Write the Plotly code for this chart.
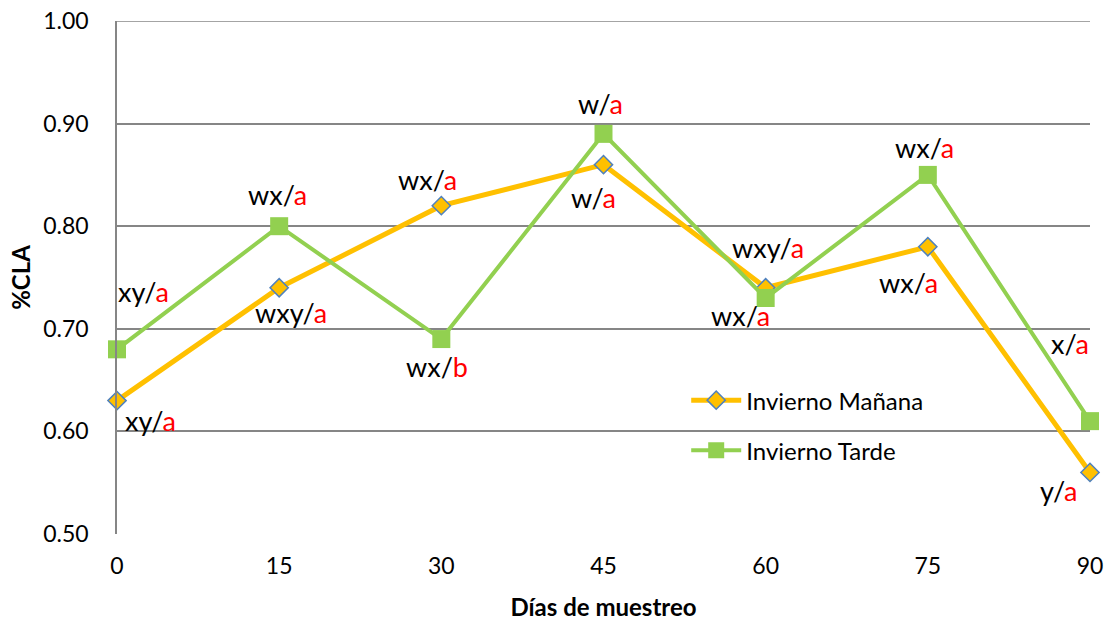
import plotly.graph_objects as go

dias = [0, 15, 30, 45, 60, 75, 90]
manana = [0.63, 0.74, 0.82, 0.86, 0.74, 0.78, 0.56]
tarde = [0.68, 0.80, 0.69, 0.89, 0.73, 0.85, 0.61]
manana_lbl = [("xy", "a"), ("wxy", "a"), ("wx", "a"), ("w", "a"), ("wx", "a"), ("wx", "a"), ("y", "a")]
tarde_lbl = [("xy", "a"), ("wx", "a"), ("wx", "b"), ("w", "a"), ("wxy", "a"), ("wx", "a"), ("x", "a")]
y_ticks = [0.5, 0.6, 0.7, 0.8, 0.9, 1.0]

# label pixel offsets (style)
manana_off = [(33, -20), (12, -25), (-14, 26), (-10, -33), (-25, -28), (-19, -36), (-32, -18)]
tarde_off = [(26, 58), (-2, 32), (-4, -27), (-3, 30), (2, 51), (-3, 27), (-20, 78)]

FONT = "Lato, 'Open Sans', sans-serif"
GRID = "#868686"

fig = go.Figure()
fig.add_trace(go.Scatter(
    x=dias, y=manana, mode="lines+markers", name="Invierno Mañana",
    line=dict(color="#FFC000", width=5),
    marker=dict(symbol="diamond", size=14, color="#FFC000",
                line=dict(color="#4F81BD", width=1.5)),
    legendgroup="m", cliponaxis=False,
))
fig.add_trace(go.Scatter(
    x=dias, y=tarde, mode="lines+markers", name="Invierno Tarde",
    line=dict(color="#92D050", width=4),
    marker=dict(symbol="square", size=18, color="#92D050",
                line=dict(color="#92D050", width=0)),
    legendgroup="t", cliponaxis=False,
))

ann = []
for xs, ys, labels, offs in [(dias, manana, manana_lbl, manana_off), (dias, tarde, tarde_lbl, tarde_off)]:
    for x, y, (a, b), (dx, dy) in zip(xs, ys, labels, offs):
        ann.append(dict(
            x=x, y=y, xref="x", yref="y", showarrow=False,
            text=f"{a}/<span style='color:#FF0000'>{b}</span>",
            xshift=dx, yshift=dy,
            font=dict(family=FONT, size=27, color="#000000"),
        ))

fig.update_layout(
    width=1110, height=622,
    margin=dict(l=117, r=20, t=21, b=88),
    paper_bgcolor="white", plot_bgcolor="white",
    font=dict(family=FONT, size=23, color="#000000"),
    annotations=ann,
    showlegend=True,
    legend=dict(x=0.585, y=0.304, xanchor="left", yanchor="top",
                bgcolor="rgba(0,0,0,0)", font=dict(family=FONT, size=24),
                tracegroupgap=16, itemwidth=50),
    xaxis=dict(
        range=[0, 90], tickmode="array", tickvals=dias, ticktext=[str(d) for d in dias],
        showgrid=False, zeroline=False, showline=False, ticks="",
        tickfont=dict(size=23), ticklabelstandoff=16, ticklabeloverflow="allow",
        automargin=False,
        title=dict(text="<b>Días de muestreo</b>", font=dict(size=24), standoff=21),
    ),
    yaxis=dict(
        range=[0.5, 1.0], tickmode="array", tickvals=y_ticks,
        ticktext=[f"{v:.2f}" for v in y_ticks],
        showgrid=True, gridcolor=GRID, gridwidth=1.5,
        zeroline=False, showline=True, linecolor=GRID, linewidth=1.5,
        ticks="", tickfont=dict(size=23), ticklabelstandoff=22, ticklabeloverflow="allow",
        automargin=False,
        title=dict(text="<b>%CLA</b>", font=dict(size=24), standoff=6),
    ),
)
# top gridline at the highest tick, drawn explicitly so it is never dropped at the range edge
fig.add_shape(type="line", xref="paper", yref="y", x0=0, x1=1, y0=y_ticks[-1], y1=y_ticks[-1],
              line=dict(color=GRID, width=1.5), layer="below")

fig.write_html("out.html", config={"displayModeBar": False},
               post_script="document.body.style.margin='0px';")
